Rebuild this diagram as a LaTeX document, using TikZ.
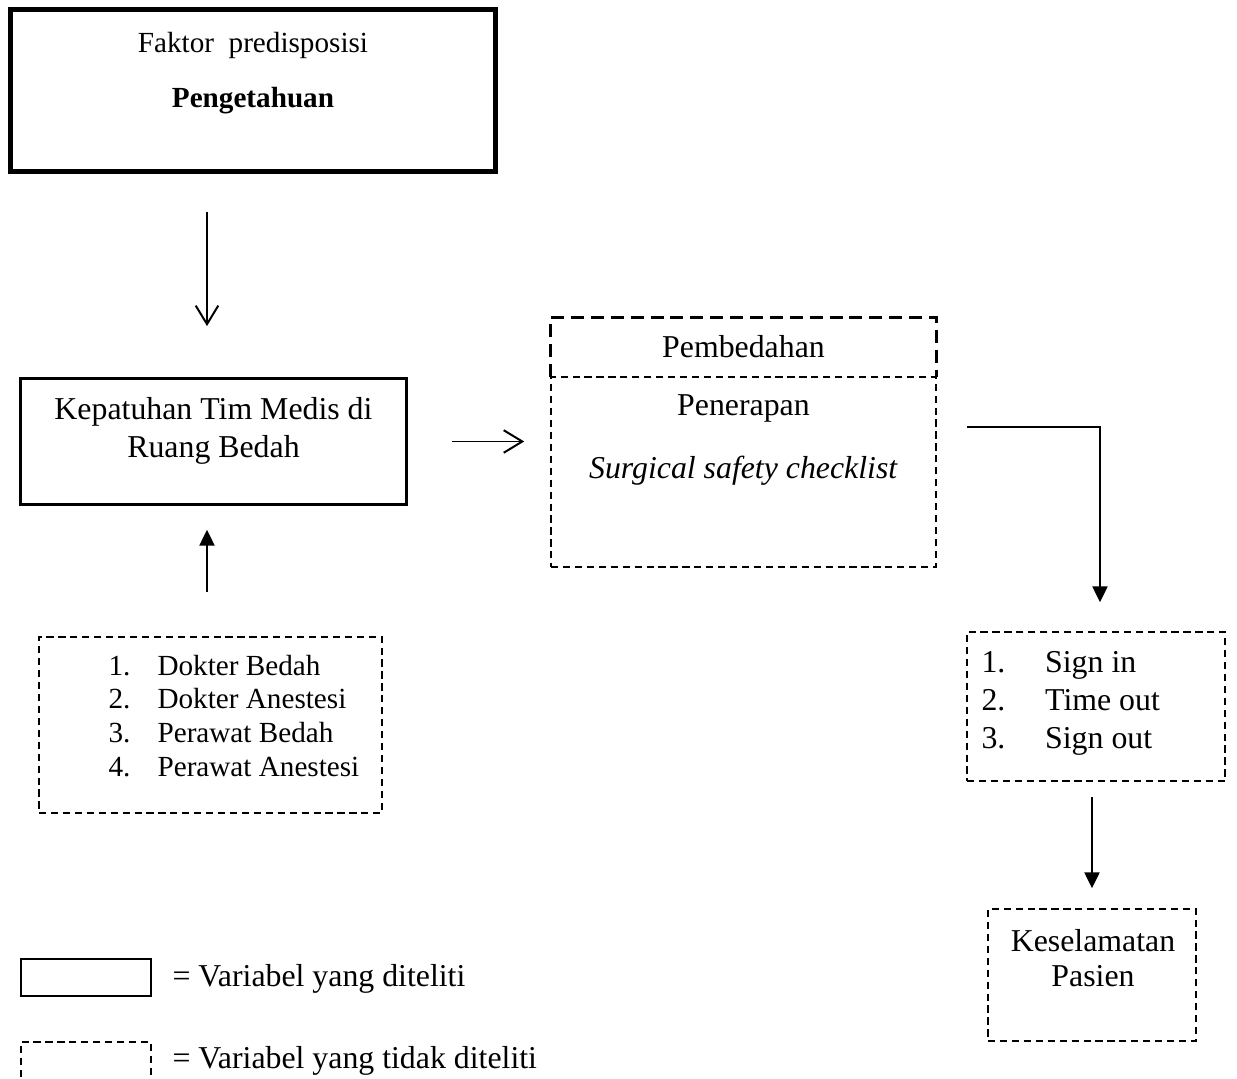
\documentclass[tikz,border=0pt]{standalone}
\usepackage{fontspec}
\setmainfont{Liberation Serif}
\usetikzlibrary{arrows.meta}
\tikzset{
  font={\fontsize{12pt}{14.4pt}\selectfont},
  small/.style={font={\fontsize{11pt}{12.7pt}\selectfont}},
  solidbox/.style={draw, line width=1.1pt, inner sep=0pt},
  dashbox/.style={draw, line width=0.65pt, dash pattern=on 2.7pt off 1.8pt, inner sep=0pt},
  bolddash/.style={line width=1.3pt, dash pattern=on 4.9pt off 2.6pt},
  txt/.style={inner sep=0pt, align=center},
  openarrow/.style={line width=0.75pt, -{Straight Barb[length=7pt,width=8.5pt]}},
  fillarrow/.style={line width=0.8pt, -{Triangle[length=6pt,width=5.7pt]}}}

\begin{document}
\begin{tikzpicture}[x=0.377pt, y=-0.377pt]
  \useasboundingbox (0,0) rectangle (1237,1079);
  % boxes
  \node (fak) [solidbox, line width=1.9pt, minimum width=182.8pt, minimum height=61.1pt] at (253,90.5) {};
  \node (kep) [solidbox, minimum width=145.5pt, minimum height=47.5pt] at (213.5,441.5) {};
  \node (bdh) [inner sep=0pt, minimum width=145.1pt, minimum height=21.9pt] at (743.5,347) {Pembedahan};
  \node (ssc) [dashbox, minimum width=145.1pt, minimum height=71.6pt] at (743.5,472) {};
  \node (tim) [dashbox, minimum width=129.3pt, minimum height=66.4pt] at (210.5,725) {};
  \node (sgn) [dashbox, minimum width=97.3pt, minimum height=56.2pt] at (1096,706.5) {};
  \node (kes) [dashbox, minimum width=78.4pt, minimum height=49.8pt] at (1092,975) {};
  \draw[bolddash] (bdh.south west) -- (bdh.north west) -- (bdh.north east) -- (bdh.south east);

  % texts in the boxes
  \node (faktxt) [txt, small] at (253,45) {Faktor\ \ predisposisi};
  \node (pgttxt) [txt, font={\fontsize{11pt}{12.7pt}\selectfont\bfseries}] at (253,101) {Pengetahuan};
  \node (keptxt) [txt] at (213.5,431) {Kepatuhan Tim Medis di\\Ruang Bedah};
  \node (ssctxt) [txt] at (743.5,440) {Penerapan\\[9pt]\textit{Surgical safety checklist}};
  \node (timtxt) [txt, small, anchor=west] at (108,719) {%
    \begin{tabular}{@{}p{18.5pt}@{}l@{}}
      1. & Dokter Bedah\\
      2. & Dokter Anestesi\\
      3. & Perawat Bedah\\
      4. & Perawat Anestesi
    \end{tabular}};
  \node (sgntxt) [txt, anchor=west] at (981,703) {%
    \begin{tabular}{@{}p{24pt}@{}l@{}}
      1. & Sign in\\
      2. & Time out\\
      3. & Sign out
    \end{tabular}};
  \node (kestxt) [txt, font={\fontsize{12pt}{13.3pt}\selectfont}] at (1093,958) {Keselamatan\\Pasien};

  % connectors
  \coordinate (axis) at (207,0);
  \coordinate (turn) at (1100,427);
  \draw[openarrow, shorten <=14.3pt, shorten >=19.2pt] (fak.south -| axis) -- (kep.north -| axis);
  \draw[openarrow, shorten <=16.6pt, shorten >=9.8pt] (kep.east) -- (kep.east -| ssc.west);
  \draw[fillarrow, shorten <=16.6pt, shorten >=9pt] (tim.north -| axis) -- (kep.south -| axis);
  \draw[fillarrow, shorten <=11.3pt, shorten >=10.9pt] (ssc.east |- turn) -- (turn) -- (turn |- sgn.north);
  \draw[fillarrow, shorten <=5.7pt, shorten >=7.5pt] (sgn.south -| kes.north) -- (kes.north);

  % legend
  \node (legsolid) [solidbox, line width=0.75pt, minimum width=49pt, minimum height=13.9pt] at (86,977.5) {};
  \node (legdash) [dashbox, minimum width=49pt, minimum height=21.9pt] at (86,1071) {};
  \node (legsolidtxt) [txt, anchor=west] at (172,979) {= Variabel yang diteliti};
  \node (legdashtxt) [txt, anchor=west] at (172,1061) {= Variabel yang tidak diteliti};
\end{tikzpicture}
\end{document}
